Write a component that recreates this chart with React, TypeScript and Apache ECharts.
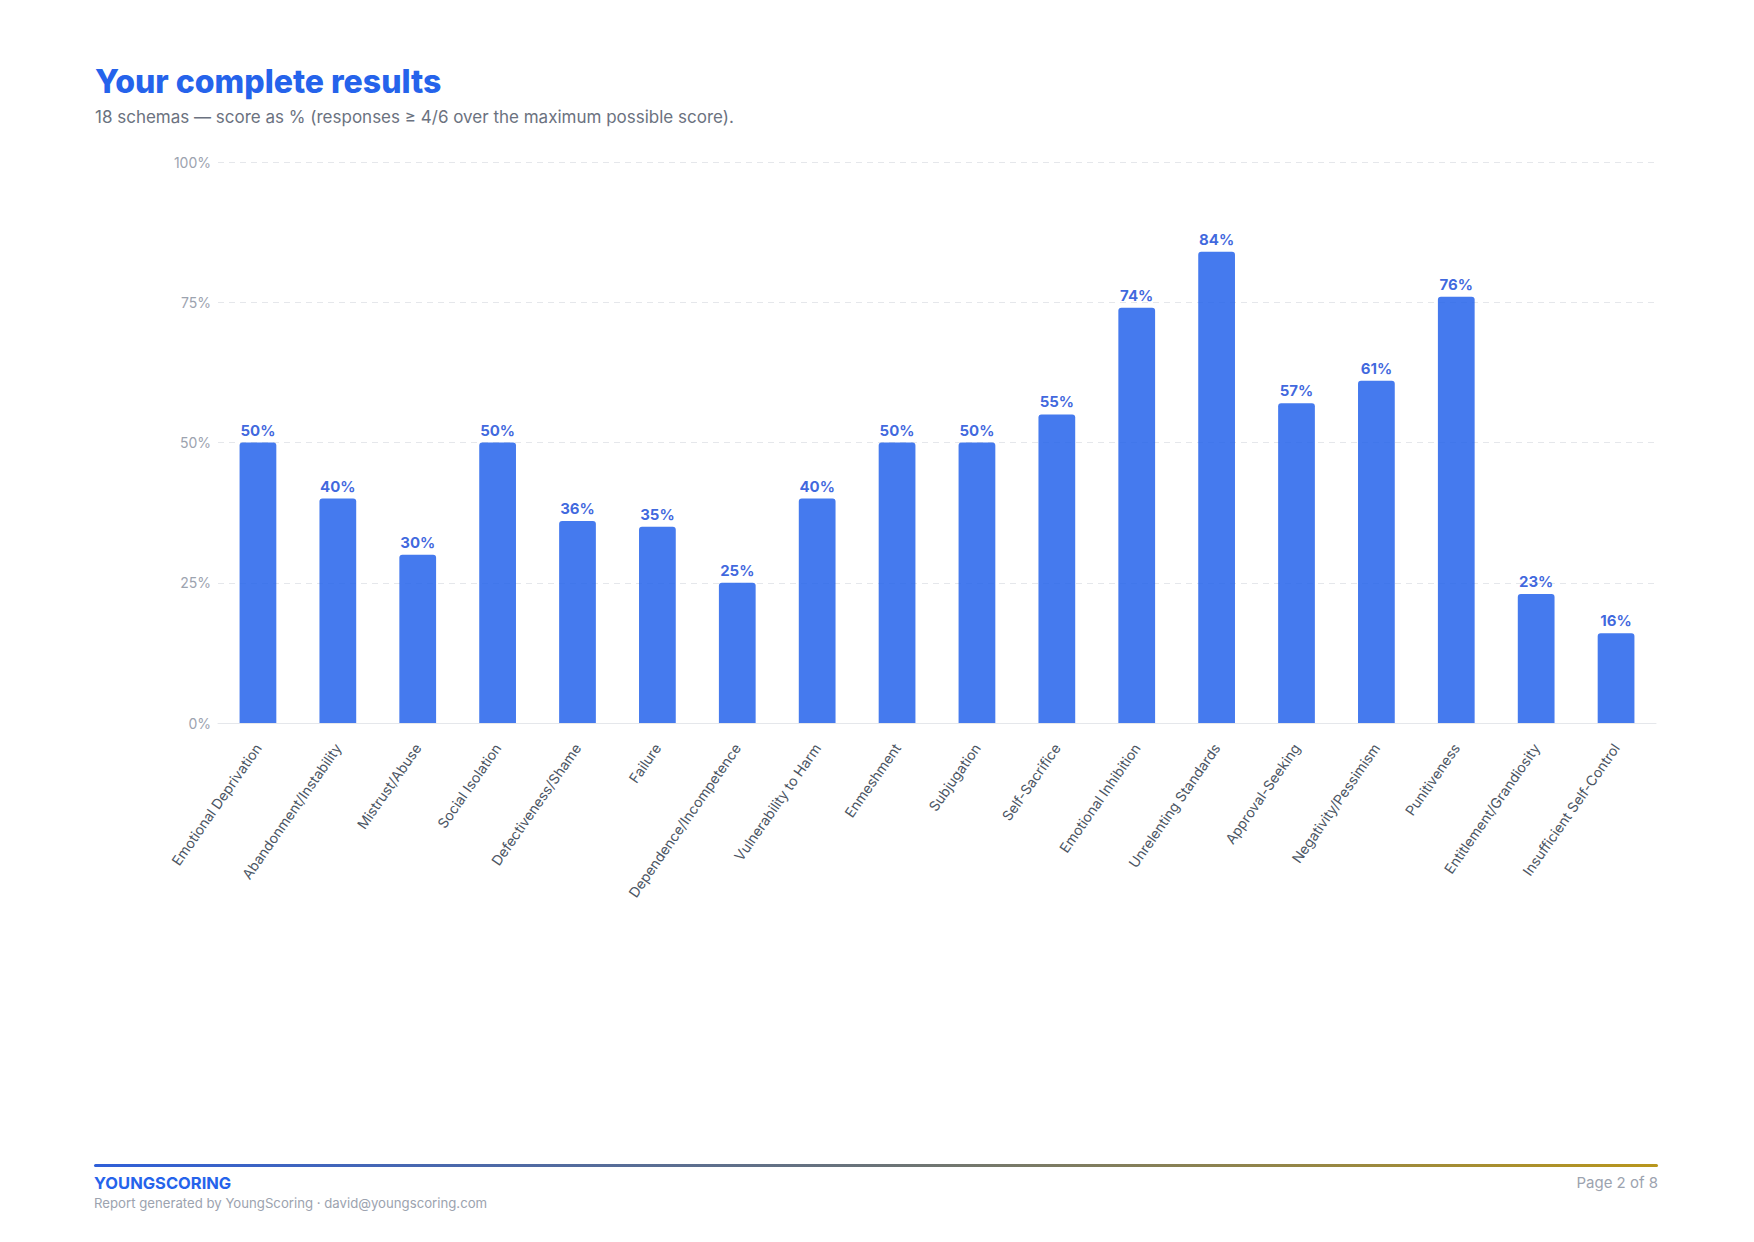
import { useRef, useEffect } from 'react';
import * as echarts from 'echarts';

const schemas = [
  'Emotional Deprivation',
  'Abandonment/Instability',
  'Mistrust/Abuse',
  'Social Isolation',
  'Defectiveness/Shame',
  'Failure',
  'Dependence/Incompetence',
  'Vulnerability to Harm',
  'Enmeshment',
  'Subjugation',
  'Self-Sacrifice',
  'Emotional Inhibition',
  'Unrelenting Standards',
  'Approval-Seeking',
  'Negativity/Pessimism',
  'Punitiveness',
  'Entitlement/Grandiosity',
  'Insufficient Self-Control',
];

const scores = [50, 40, 30, 50, 36, 35, 25, 40, 50, 50, 55, 74, 84, 57, 61, 76, 23, 16];

const FONT = 'Inter, "Noto Sans", sans-serif';

export default function App() {
  const chartRef = useRef<HTMLDivElement>(null);

  useEffect(() => {
    let chart: echarts.ECharts | undefined;

    if (chartRef.current) {
      chart = echarts.init(chartRef.current, undefined, { renderer: 'svg' });

      chart.setOption({
        animation: false,
        textStyle: { fontFamily: FONT },
        grid: { left: 218, right: 98, top: 162, bottom: 519, containLabel: false },
        xAxis: {
          type: 'category',
          data: schemas,
          axisLine: { lineStyle: { color: '#e5e7eb', width: 1 } },
          axisTick: { show: false },
          axisLabel: {
            interval: 0,
            rotate: 55,
            margin: 22,
            fontSize: 14,
            color: '#4b5563',
            fontFamily: FONT,
          },
        },
        yAxis: {
          type: 'value',
          min: 0,
          max: 100,
          interval: 25,
          axisLine: { show: false },
          axisTick: { show: false },
          axisLabel: {
            formatter: '{value}%',
            fontSize: 14,
            color: '#9ca3af',
            margin: 7,
            fontFamily: FONT,
          },
          splitLine: { lineStyle: { color: '#e5e7eb', type: [6, 5], width: 1 } },
        },
        series: [
          {
            type: 'bar',
            data: scores,
            barWidth: '46%',
            itemStyle: { color: '#2563eb', opacity: 0.85, borderRadius: [3, 3, 0, 0] },
            label: {
              show: true,
              position: 'top',
              distance: 5,
              formatter: '{c}%',
              fontSize: 15,
              fontWeight: 'bold',
              color: '#1d4ed8',
              fontFamily: FONT,
            },
          },
        ],
        graphic: [
          {
            type: 'text',
            left: 95,
            top: 65,
            style: {
              text: 'Your complete results',
              font: `800 32px ${FONT}`,
              fill: '#2563eb',
            },
          },
          {
            type: 'text',
            left: 95,
            top: 108,
            style: {
              text: '18 schemas — score as % (responses ≥ 4/6 over the maximum possible score).',
              font: `17px ${FONT}`,
              fill: '#6b7280',
            },
          },
          {
            type: 'rect',
            shape: { x: 94, y: 1164, width: 1564, height: 3, r: 1.5 },
            style: {
              fill: new echarts.graphic.LinearGradient(0, 0, 1, 0, [
                { offset: 0, color: '#2f5fd8' },
                { offset: 0.5, color: '#6a7378' },
                { offset: 1, color: '#b8961c' },
              ]),
            },
          },
          {
            type: 'text',
            left: 94,
            top: 1174,
            style: {
              text: 'YOUNGSCORING',
              font: `bold 16.5px ${FONT}`,
              fill: '#2563eb',
            },
          },
          {
            type: 'text',
            left: 94,
            top: 1196,
            style: {
              text: 'Report generated by YoungScoring · david@youngscoring.com',
              font: `13.2px ${FONT}`,
              fill: '#9ca3af',
            },
          },
          {
            type: 'text',
            right: 96,
            top: 1175,
            style: {
              text: 'Page 2 of 8',
              font: `15px ${FONT}`,
              fill: '#9ca3af',
            },
          },
        ],
      });
    }

    const handleResize = () => {
      chart?.resize();
    };

    window.addEventListener('resize', handleResize);

    return () => {
      chart?.dispose();
      window.removeEventListener('resize', handleResize);
    };
  }, []);

  return (
    <div
      ref={chartRef}
      style={{ position: 'absolute', left: 0, top: 0, width: 1754, height: 1242, background: '#fff' }}
    />
  );
}
